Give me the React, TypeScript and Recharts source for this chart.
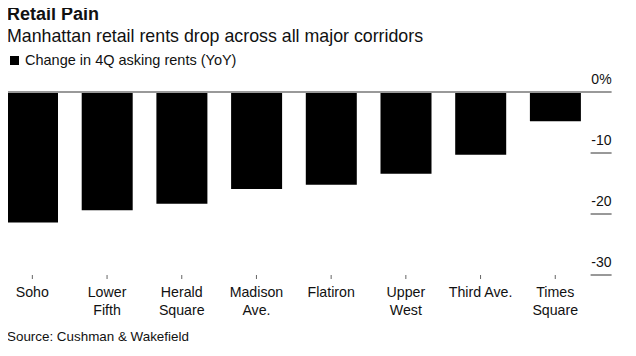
import { ComposedChart, Bar, XAxis, YAxis } from "recharts";

const corridors = [
  "Soho",
  "Lower\nFifth",
  "Herald\nSquare",
  "Madison\nAve.",
  "Flatiron",
  "Upper\nWest",
  "Third Ave.",
  "Times\nSquare",
];
const rentChange = [-21.4, -19.4, -18.3, -15.9, -15.2, -13.4, -10.3, -4.8];
const yTicks = [0, -10, -20, -30];

const data = corridors.map((name, i) => ({ name, value: rentChange[i] }));

const FONT = "'Liberation Sans', Arial, Helvetica, sans-serif";

const XTick = ({ x, y, payload }: any) => {
  const lines = String(payload.value).split("\n");
  return (
    <g>
      {lines.map((line: string, i: number) => (
        <text
          key={i}
          x={x}
          y={y + 16 + i * 18}
          textAnchor="middle"
          fontSize={14.2}
          fontFamily={FONT}
          fill="#111"
        >
          {line}
        </text>
      ))}
    </g>
  );
};

const YTick = ({ x, y, payload }: any) => {
  const v = payload.value;
  return (
    <g>
      <line
        x1={v === 0 ? x - 586 : x - 2}
        x2={x + 19}
        y1={y}
        y2={y}
        stroke={v === 0 ? "#999" : "#333"}
        strokeWidth={v === 0 ? 2 : 1}
      />
      <text
        x={x + 19}
        y={y - 8}
        textAnchor="end"
        fontSize={14}
        fontFamily={FONT}
        fill="#111"
      >
        {v === 0 ? "0%" : v}
      </text>
    </g>
  );
};

export default function App() {
  return (
    <div
      style={{
        position: "relative",
        width: 636,
        height: 356,
        margin: -8,
        background: "#fff",
        fontFamily: FONT,
        color: "#111",
      }}
    >
      <div style={{ position: "absolute", left: 7, top: 4, fontSize: 18, fontWeight: 700 }}>
        Retail Pain
      </div>
      <div style={{ position: "absolute", left: 7, top: 26, fontSize: 17.8 }}>
        Manhattan retail rents drop across all major corridors
      </div>
      <div
        style={{
          position: "absolute",
          left: 10,
          top: 52,
          fontSize: 14.5,
          display: "flex",
          alignItems: "center",
        }}
      >
        <span
          style={{ display: "inline-block", width: 9, height: 9, background: "#000", marginRight: 6 }}
        />
        Change in 4Q asking rents (YoY)
      </div>
      <div style={{ position: "absolute", left: 7, top: 329, fontSize: 13.4 }}>
        Source: Cushman &amp; Wakefield
      </div>
      <ComposedChart
        width={636}
        height={356}
        data={data}
        margin={{ top: 92, right: 0, bottom: 0, left: -5 }}
        style={{ position: "absolute", left: 0, top: 0 }}
      >
        <XAxis
          dataKey="name"
          axisLine={false}
          tickLine={{ stroke: "#666" }}
          tickSize={4}
          interval={0}
          height={81}
          tick={<XTick />}
        />
        <YAxis
          orientation="right"
          domain={[-30, 0]}
          ticks={yTicks}
          axisLine={false}
          tickLine={false}
          tickSize={0}
          tickMargin={0}
          width={43.4}
          tick={<YTick />}
        />
        <Bar dataKey="value" fill="#000" barSize={51} isAnimationActive={false} />
      </ComposedChart>
    </div>
  );
}
